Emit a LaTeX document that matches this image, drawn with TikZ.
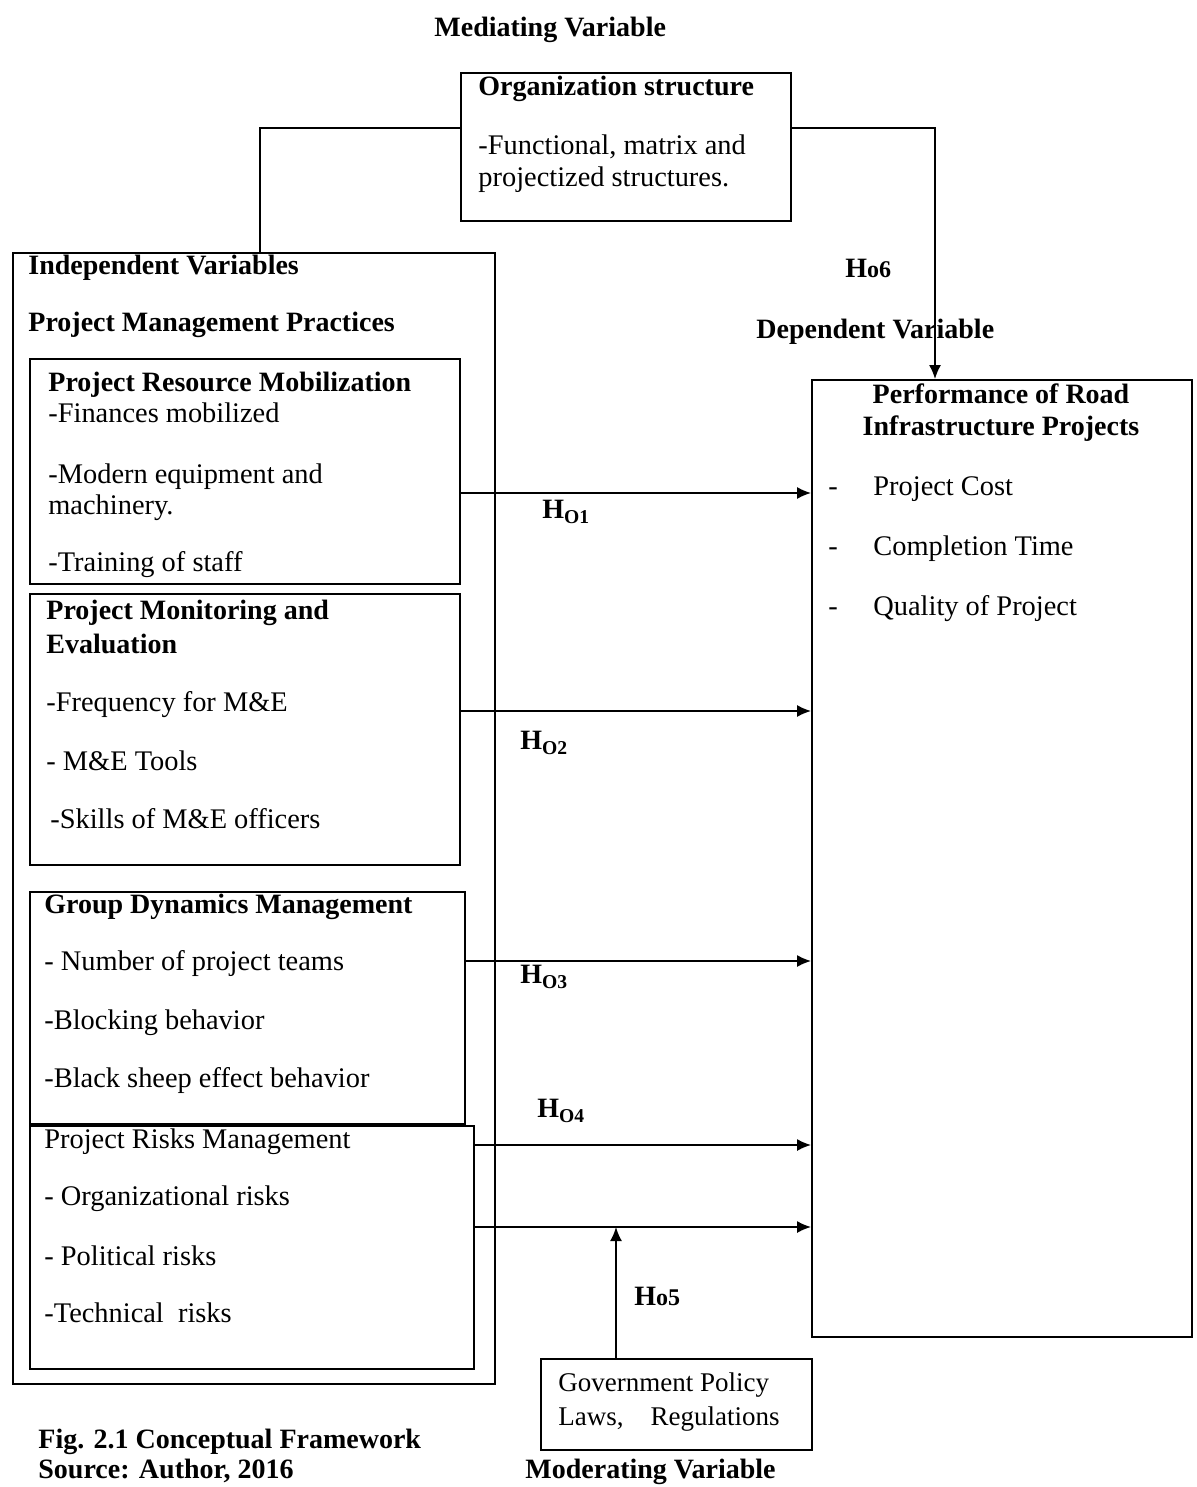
\documentclass[tikz,border=0pt]{standalone}
\usepackage{fontspec}
\setmainfont{Liberation Serif}
\usetikzlibrary{arrows.meta}
\usetikzlibrary{fit}

\begin{document}
\begin{tikzpicture}
    [line cap=butt,line join=miter,x=0.5pt,y=-0.5pt,
     box/.style={draw,line width=0.9pt,inner sep=0pt},
     txt/.style={anchor=west,inner sep=0pt,yshift=-1.5pt,text height=1.5ex,text depth=.25ex,font=\fontsize{14.2}{17}\selectfont},
     bld/.style={txt,font=\fontsize{14}{17}\selectfont\bfseries},
     link/.style={line width=0.9pt},
     arr/.style={-{Latex[length=7pt,width=6pt]},line width=0.9pt}]
\useasboundingbox (0,0) rectangle (1196,1487);
%boxes
 \node[box,fit={(461,73) (791,221)}] (org) {};
 \node[box,fit={(13,253) (495,1384)}] (indep) {};
 \node[box,fit={(30,359) (460,584)}] (rm) {};
 \node[box,fit={(30,594) (460,865)}] (me) {};
 \node[box,fit={(30,892) (465,1124)}] (gd) {};
 \node[box,fit={(30,1126) (474,1369)}] (rk) {};
 \node[box,fit={(812,380) (1192,1337)}] (perf) {};
 \node[box,fit={(541,1359) (812,1450)}] (gov) {};
%mediating variable
 \node[bld] (medt) at (434,28) {Mediating Variable};
 \node[bld] (orgt) at (478,87) {Organization structure};
 \node[txt] (org1) at (478,146) {-Functional, matrix and};
 \node[txt] (org2) at (478,178) {projectized structures.};
%independent variables
 \node[bld] (indt) at (28,266) {Independent Variables};
 \node[bld] (pmp) at (28,323) {Project Management Practices};
 \node[bld] (rmt) at (48,383) {Project Resource Mobilization};
 \node[txt] (rm1) at (48,414) {-Finances mobilized};
 \node[txt] (rm2) at (48,475) {-Modern equipment and};
 \node[txt] (rm3) at (48,506) {machinery.};
 \node[txt] (rm4) at (48,563) {-Training of staff};
 \node[bld] (met) at (46,611) {Project Monitoring and};
 \node[bld] (met2) at (46,645) {Evaluation};
 \node[txt] (me1) at (46,703) {-Frequency for M\&E};
 \node[txt] (me2) at (46,762) {- M\&E Tools};
 \node[txt] (me3) at (50,820) {-Skills of M\&E officers};
 \node[bld] (gdt) at (44,905) {Group Dynamics Management};
 \node[txt] (gd1) at (44,962) {- Number of project teams};
 \node[txt] (gd2) at (44,1021) {-Blocking behavior};
 \node[txt] (gd3) at (44,1079) {-Black sheep effect behavior};
 \node[txt] (rkt) at (44,1140) {Project Risks Management};
 \node[txt] (rk1) at (44,1197) {- Organizational risks};
 \node[txt] (rk2) at (44,1257) {- Political risks};
 \node[txt] (rk3) at (44,1314) {-Technical\ \ risks};
%dependent variable
 \node[bld] (ho6) at (845,269) {H{\fontsize{12}{14}\selectfont o6}};
 \node[bld] (dept) at (756,330) {Dependent Variable};
 \node[bld,anchor=center] (perft) at (1001,395) {Performance of Road};
 \node[bld,anchor=center] (perft2) at (1001,427) {Infrastructure Projects};
 \foreach \y/\t [count=\i] in {487/Project Cost,547/Completion Time,607/Quality of Project}{
   \node[txt] (d\i) at (828,\y) {-};
   \node[txt] (p\i) at (873,\y) {\t};
 }
%moderating variable
 \node[txt,font=\fontsize{13.5}{16}\selectfont] (gov1) at (558,1383) {Government Policy};
 \node[txt,font=\fontsize{13.5}{16}\selectfont] (gov2) at (558,1417) {Laws,\ \ \ \ Regulations};
 \node[bld] (modt) at (525,1470) {Moderating Variable};
 \node[bld] (fig) at (38,1440) {Fig. 2.1 Conceptual Framework};
 \node[bld] (src) at (38,1470) {Source: Author, 2016};
%hypothesis labels
 \node[bld] (h1t) at (542,510) {H\textsubscript{O1}};
 \node[bld] (h2t) at (520,741) {H\textsubscript{O2}};
 \node[bld] (h3t) at (520,975) {H\textsubscript{O3}};
 \node[bld] (h4t) at (537,1109) {H\textsubscript{O4}};
 \node[bld] (ho5) at (634,1297) {H{\fontsize{12}{14}\selectfont o5}};
%connectors
 \coordinate (c1) at (260,128);
 \coordinate (c2) at (935,128);
 \draw[link] (org.west |- c1) -- (c1) -- (c1 |- indep.north);
 \draw[arr] (org.east |- c2) -- (c2) -- (c2 |- perf.north);
 \coordinate (h1) at (0,493);
 \coordinate (h2) at (0,711);
 \coordinate (h3) at (0,961);
 \coordinate (h4) at (0,1145);
 \coordinate (h5) at (0,1227);
 \coordinate (m) at (616,1227);
 \draw[arr] (rm.east |- h1) -- (perf.west |- h1);
 \draw[arr] (me.east |- h2) -- (perf.west |- h2);
 \draw[arr] (gd.east |- h3) -- (perf.west |- h3);
 \draw[arr] (rk.east |- h4) -- (perf.west |- h4);
 \draw[arr] (rk.east |- h5) -- (perf.west |- h5);
 \draw[arr] (gov.north -| m) -- (m);
\end{tikzpicture}
\end{document}
